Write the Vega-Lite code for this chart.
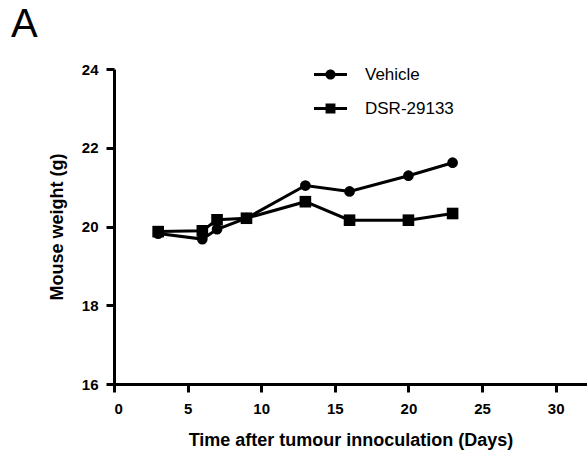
{
  "$schema": "https://vega.github.io/schema/vega-lite/v6.json",
  "width": 473,
  "height": 315,
  "autosize": {"type": "none"},
  "padding": {"left": 114, "top": 69, "right": 0, "bottom": 77},
  "background": "white",
  "title": {"text": "A", "anchor": "start", "frame": "group", "dx": -103, "offset": -19, "baseline": "alphabetic", "fontSize": 40, "fontWeight": "normal", "font": "Liberation Sans", "color": "black"},
  "config": {
    "view": {"stroke": null},
    "axis": {"grid": false, "domainColor": "black", "domainWidth": 3, "tickColor": "black", "tickWidth": 3, "tickSize": 8, "labelFont": "Liberation Sans", "labelFontWeight": "bold", "labelFontSize": 15, "labelColor": "black", "titleFont": "Liberation Sans", "titleFontWeight": "bold", "titleFontSize": 18, "titleColor": "black"}
  },
  "data": {"values": [
    {"day": 3, "weight": 19.82, "group": "Vehicle"},
    {"day": 6, "weight": 19.68, "group": "Vehicle"},
    {"day": 7, "weight": 19.93, "group": "Vehicle"},
    {"day": 9, "weight": 20.21, "group": "Vehicle"},
    {"day": 13, "weight": 21.04, "group": "Vehicle"},
    {"day": 16, "weight": 20.89, "group": "Vehicle"},
    {"day": 20, "weight": 21.29, "group": "Vehicle"},
    {"day": 23, "weight": 21.62, "group": "Vehicle"},
    {"day": 3, "weight": 19.87, "group": "DSR-29133"},
    {"day": 6, "weight": 19.89, "group": "DSR-29133"},
    {"day": 7, "weight": 20.17, "group": "DSR-29133"},
    {"day": 9, "weight": 20.21, "group": "DSR-29133"},
    {"day": 13, "weight": 20.63, "group": "DSR-29133"},
    {"day": 16, "weight": 20.16, "group": "DSR-29133"},
    {"day": 20, "weight": 20.16, "group": "DSR-29133"},
    {"day": 23, "weight": 20.33, "group": "DSR-29133"}
  ]},
  "encoding": {
    "x": {"field": "day", "type": "quantitative", "scale": {"domain": [0, 32.13], "nice": false}, "axis": {"values": [0, 5, 10, 15, 20, 25, 30], "labelPadding": 9, "titleY": 47, "title": "Time after tumour innoculation (Days)"}},
    "y": {"field": "weight", "type": "quantitative", "scale": {"domain": [16, 24], "nice": false, "zero": false}, "axis": {"values": [16, 18, 20, 22, 24], "labelPadding": 8, "titleX": -48, "title": "Mouse weight (g)"}}
  },
  "layer": [
    {"mark": {"type": "line", "color": "black", "strokeWidth": 3}, "encoding": {"detail": {"field": "group"}}},
    {"mark": {"type": "point", "filled": true, "color": "black", "opacity": 1}, "encoding": {
      "shape": {"field": "group", "type": "nominal", "scale": {"domain": ["Vehicle", "DSR-29133"], "range": ["circle", "square"]}, "legend": null},
      "size": {"field": "group", "type": "nominal", "scale": {"domain": ["Vehicle", "DSR-29133"], "range": [115, 135]}, "legend": null}
    }},
    {"mark": {"type": "point", "filled": true, "color": "black", "opacity": 0}, "encoding": {
      "shape": {"field": "group", "type": "nominal", "scale": {"domain": ["Vehicle", "DSR-29133"], "range": ["M-1,-0.09H-0.25V0.09H-1Z M0.25,-0.09H1V0.09H0.25Z M0.31,0A0.31,0.31 0 1 1 -0.31,0A0.31,0.31 0 1 1 0.31,0Z", "M-1,-0.09H-0.25V0.09H-1Z M0.25,-0.09H1V0.09H0.25Z M-0.3,-0.3H0.3V0.3H-0.3Z"]},
        "legend": {"title": null, "orient": "none", "legendX": 200, "legendY": -11, "symbolSize": 1089, "symbolOpacity": 1, "symbolFillColor": "black", "symbolStrokeColor": "black", "symbolStrokeWidth": 0, "rowPadding": 9, "labelFont": "Liberation Sans", "labelFontSize": 17, "labelColor": "black", "labelOffset": 18,
          "encode": {"symbols": {"update": {"fill": {"value": "black"}, "opacity": {"value": 1}, "fillOpacity": {"value": 1}}}}}}
    }}
  ],
  "resolve": {"scale": {"shape": "independent", "size": "independent"}}
}
